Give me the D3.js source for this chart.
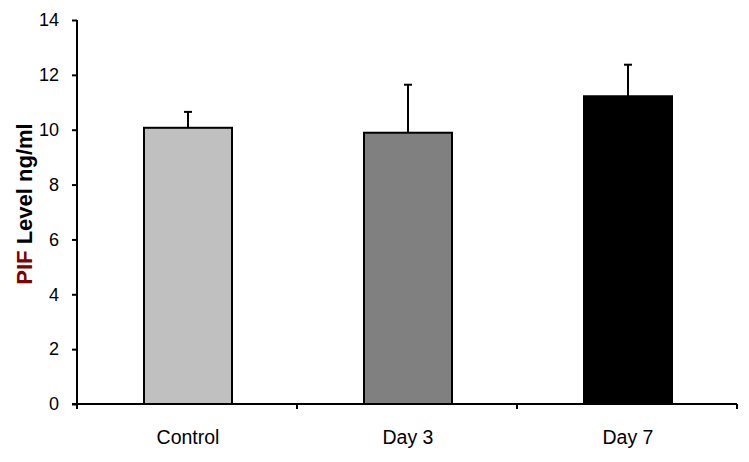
<!DOCTYPE html>
<html>
<head>
<meta charset="utf-8">
<script src="https://cdn.jsdelivr.net/npm/d3@7"></script>
<style>
  body { margin: 0; background: #fff; }
  text { font-family: "Liberation Sans", Arial, sans-serif; }
</style>
</head>
<body>
<svg width="749" height="462"></svg>
<script>
// data
var categories = ["Control", "Day 3", "Day 7"];
var means = [10.07, 9.89, 11.22];
var errors = [0.58, 1.75, 1.15];
var barColors = ["#c0c0c0", "#808080", "#000000"];
var yTicks = [0, 2, 4, 6, 8, 10, 12, 14];

var svg = d3.select("svg");
var margin = {left: 77, right: 12, top: 20, bottom: 58};
var width = 749, height = 462;

var x = d3.scaleBand()
  .domain(categories)
  .range([margin.left, width - margin.right])
  .paddingInner(0.6)
  .paddingOuter(0.3);

var y = d3.scaleLinear()
  .domain([0, 14])
  .range([height - margin.bottom, margin.top]);

// bars
svg.append("g")
  .selectAll("rect")
  .data(means)
  .enter()
  .append("rect")
  .attr("x", function (d, i) { return x(categories[i]) + 1; })
  .attr("y", function (d) { return y(d); })
  .attr("width", x.bandwidth())
  .attr("height", function (d) { return y(0) - y(d); })
  .attr("fill", function (d, i) { return barColors[i]; })
  .attr("stroke", "#000")
  .attr("stroke-width", 2);

// error bars (upper only)
var eb = svg.append("g").attr("stroke", "#000").attr("stroke-width", 2);
means.forEach(function (m, i) {
  var cx = x(categories[i]) + x.bandwidth() / 2 + 1;
  eb.append("line")
    .attr("x1", cx).attr("x2", cx)
    .attr("y1", y(m)).attr("y2", y(m + errors[i]));
  eb.append("line")
    .attr("x1", cx - 4).attr("x2", cx + 4)
    .attr("y1", y(m + errors[i])).attr("y2", y(m + errors[i]));
});

// y axis
var yAxis = svg.append("g")
  .attr("transform", "translate(" + margin.left + ",0)")
  .call(d3.axisLeft(y).tickValues(yTicks).tickSize(5).tickPadding(13).tickFormat(d3.format("d")));
yAxis.select(".domain").attr("stroke-width", 2).attr("d", "M0," + y(14) + "V" + y(0));
yAxis.selectAll(".tick line").attr("stroke-width", 2);
yAxis.selectAll("text")
  .attr("fill", "#000")
  .style("font-size", "18px")
  .style("font-family", "'Liberation Sans', Arial, sans-serif");

// x axis: ticks at category boundaries
var step = x.step();
var bounds = d3.range(categories.length + 1).map(function (i) { return margin.left + i * step; });
var xAxis = svg.append("g").attr("transform", "translate(0," + y(0) + ")");
xAxis.append("line")
  .attr("x1", margin.left - 5).attr("x2", bounds[bounds.length - 1])
  .attr("stroke", "#000").attr("stroke-width", 2);
xAxis.selectAll("line.tk")
  .data(bounds)
  .enter().append("line")
  .attr("class", "tk")
  .attr("x1", function (d) { return d; }).attr("x2", function (d) { return d; })
  .attr("y1", 0).attr("y2", 5)
  .attr("stroke", "#000").attr("stroke-width", 2);
xAxis.selectAll("text")
  .data(categories)
  .enter().append("text")
  .attr("x", function (d) { return x(d) + x.bandwidth() / 2 + 1; })
  .attr("y", 40)
  .attr("text-anchor", "middle")
  .style("font-size", "19.5px")
  .text(function (d) { return d; });

// y axis title
var title = svg.append("text")
  .attr("transform", "translate(32,204) rotate(-90)")
  .attr("text-anchor", "middle")
  .style("font-size", "22px")
  .style("font-weight", "bold");
title.append("tspan").attr("fill", "#800000").text("PIF");
title.append("tspan").attr("fill", "#000").text(" Level ng/ml");
</script>
</body>
</html>
